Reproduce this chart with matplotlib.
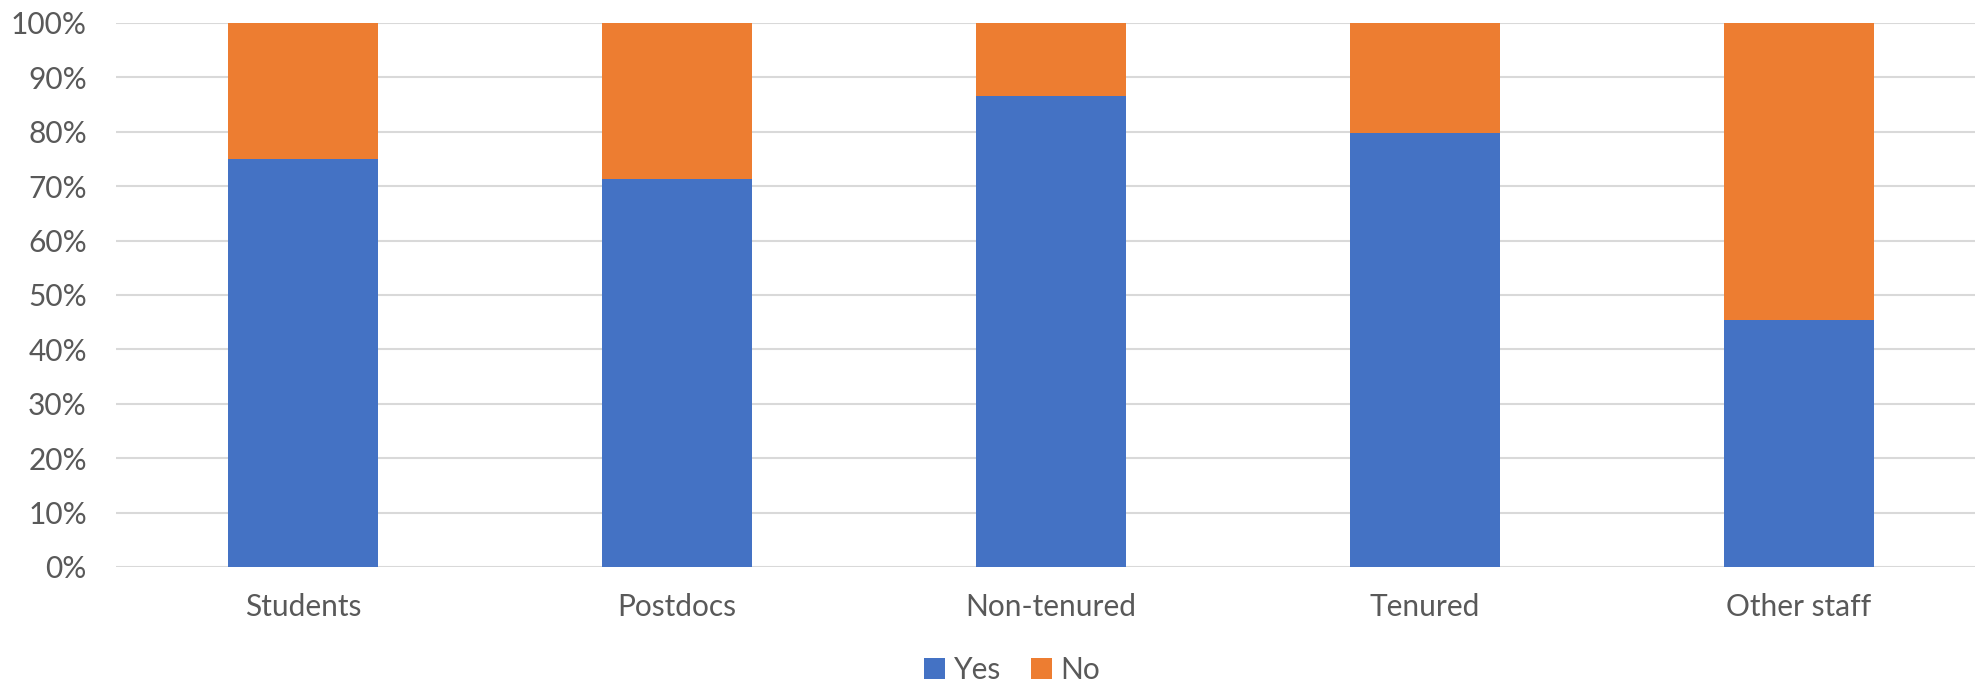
import matplotlib
matplotlib.use("Agg")
import matplotlib.pyplot as plt
from matplotlib.ticker import PercentFormatter, MultipleLocator
from matplotlib.patches import Patch

categories = ["Students", "Postdocs", "Non-tenured", "Tenured", "Other staff"]
yes_share = [75.0, 71.3, 86.6, 79.8, 45.4]
no_share = [100 - v for v in yes_share]
series_names = ["Yes", "No"]

BLUE = "#4472C4"
ORANGE = "#ED7D31"
TEXT = "#595959"
GRID = "#D9D9D9"

plt.rcParams["font.family"] = ["Lato", "DejaVu Sans"]

fig = plt.figure(figsize=(19.75, 6.84), dpi=100)
ax = fig.add_axes([116 / 1975, 1 - 567 / 684, (1986 - 116) / 1975, (567 - 23) / 684])

x = list(range(len(categories)))
ax.bar(x, yes_share, width=0.4, color=BLUE, zorder=3, linewidth=0)
ax.bar(x, no_share, width=0.4, bottom=yes_share, color=ORANGE, zorder=3, linewidth=0)

ax.set_xlim(-0.5, len(categories) - 0.5)
ax.set_ylim(0, 100)
ax.yaxis.set_major_locator(MultipleLocator(10))
ax.yaxis.set_major_formatter(PercentFormatter(decimals=0))
ax.set_xticks(x)
ax.set_xticklabels(categories)

ax.grid(axis="y", color=GRID, linewidth=1.5, zorder=0)
for s in ax.spines.values():
    s.set_visible(False)
ax.tick_params(axis="both", length=0, labelsize=21.5, labelcolor=TEXT)
ax.tick_params(axis="y", pad=21)
ax.tick_params(axis="x", pad=19)

handles = [Patch(facecolor=BLUE, label=series_names[0]), Patch(facecolor=ORANGE, label=series_names[1])]
fig.legend(handles=handles, loc="center", bbox_to_anchor=(1012 / 1975, 1 - 670 / 684), ncol=2,
           frameon=False, fontsize=21.5, labelcolor=TEXT, handlelength=0.7, handleheight=0.7,
           handletextpad=0.3, columnspacing=1.0)

fig.savefig("out.png", dpi=100)
